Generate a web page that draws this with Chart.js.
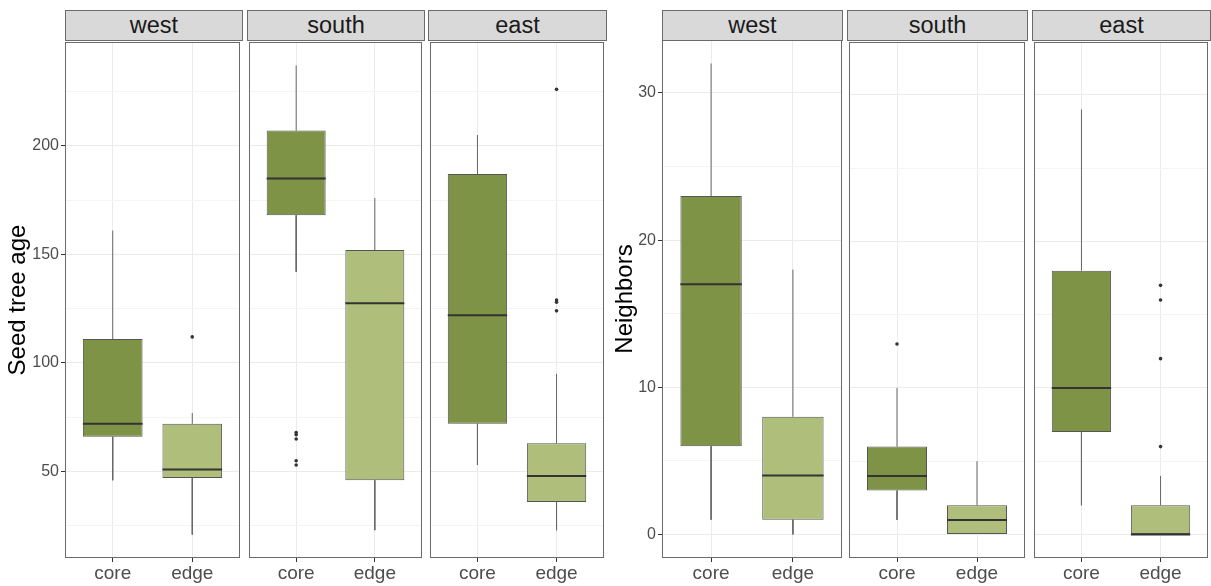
<!DOCTYPE html>
<html>
<head>
<meta charset="utf-8">
<script src="https://cdn.jsdelivr.net/npm/chart.js@4.4.1/dist/chart.umd.min.js"></script>
<style>
  html, body { margin: 0; padding: 0; background: #ffffff; }
  #wrap { position: relative; width: 1211px; height: 586px; overflow: hidden; background: #ffffff;
          font-family: "Liberation Sans", Arial, sans-serif; }
  #wrap canvas { position: absolute; }
  .strip { position: absolute; top: 10px; height: 31px; box-sizing: border-box;
           background: #d9d9d9; border: 1px solid #6b6b6b; color: #1a1a1a;
           font-size: 23.5px; display: flex; align-items: center; justify-content: center; }
</style>
</head>
<body>
<div id="wrap"></div>
<script>
// ---------------- DATA ----------------
const regions = ['west', 'south', 'east'];
const positions = ['core', 'edge'];

// Seed tree age: per region, [core, edge]
const ageLower  = [[46, 21], [142, 23], [53, 23]];
const ageQ1     = [[66, 47], [168, 46], [72, 36]];
const ageMedian = [[72, 51], [185, 127.5], [122, 48]];
const ageQ3     = [[111, 72], [207, 152], [187, 63]];
const ageUpper  = [[161, 77], [237, 176], [205, 95]];
const ageOutliers = [[[], [112]], [[68, 67, 65, 55, 53], []], [[], [226, 129, 128, 124]]];
const ageTicks  = [50, 100, 150, 200];

// Neighbors: per region, [core, edge]
const nbLower  = [[1, 0], [1, 0], [2, 0]];
const nbQ1     = [[6, 1], [3, 0], [7, 0]];
const nbMedian = [[17, 4], [4, 1], [10, 0]];
const nbQ3     = [[23, 8], [6, 2], [18, 2]];
const nbUpper  = [[32, 18], [10, 5], [29, 4]];
const nbOutliers = [[[], []], [[13], []], [[], [17, 16, 12, 6]]];
const nbTicks  = [0, 10, 20, 30];

// ---------------- LAYOUT / STYLE ----------------
const W = 1211, H = 586;
const PANEL_TOP = 40, PANEL_BOTTOM = 558;
const X_AXIS_H = H - PANEL_BOTTOM;
const BOX_WIDTH = 0.75;
const FILLS = ['#7f9347', '#afbf7b'];
const BORDER = '#6b6b6b';
const FONT = '"Liberation Sans", Arial, sans-serif';

Chart.defaults.font.family = FONT;

const metrics = [
  { lower: ageLower, q1: ageQ1, median: ageMedian, q3: ageQ3, upper: ageUpper, outliers: ageOutliers,
    ticks: ageTicks, title: 'Seed tree age',
    panels: [[65, 242], [247, 424], [428, 606]], axisLeft: 0 },
  { lower: nbLower, q1: nbQ1, median: nbMedian, q3: nbQ3, upper: nbUpper, outliers: nbOutliers,
    ticks: nbTicks, title: 'Neighbors',
    panels: [[662, 842], [847, 1027], [1032, 1210]], axisLeft: 607 }
];

const wrap = document.getElementById('wrap');

const panelBorder = {
  id: 'panelBorder',
  afterDatasetsDraw(chart) {
    const a = chart.chartArea, ctx = chart.ctx;
    ctx.save();
    ctx.strokeStyle = BORDER;
    ctx.lineWidth = 1;
    ctx.strokeRect(a.left + 0.5, a.top + 0.5, a.right - a.left - 1, a.bottom - a.top - 1);
    ctx.restore();
  }
};

function yRange(m) {
  const all = [];
  m.lower.forEach(r => r.forEach(v => all.push(v)));
  m.upper.forEach(r => r.forEach(v => all.push(v)));
  m.outliers.forEach(r => r.forEach(list => list.forEach(v => all.push(v))));
  const lo = Math.min(...all), hi = Math.max(...all);
  const pad = (hi - lo) * 0.05;
  return [lo - pad, hi + pad];
}

function makeFacet(m, ri) {
  const [pl, pr] = m.panels[ri];
  const first = ri === 0;
  const cLeft = first ? m.axisLeft : pl - 2;
  const cTop = PANEL_TOP - 2;
  const w = pr + 2 - cLeft, h = H - cTop;
  const canvas = document.createElement('canvas');
  canvas.width = w; canvas.height = h;
  canvas.style.left = cLeft + 'px'; canvas.style.top = cTop + 'px';
  canvas.style.width = w + 'px'; canvas.style.height = h + 'px';
  wrap.appendChild(canvas);

  // strip
  const strip = document.createElement('div');
  strip.className = 'strip';
  strip.style.left = pl + 'px';
  strip.style.width = (pr - pl + 1) + 'px';
  strip.textContent = regions[ri];
  wrap.appendChild(strip);

  const [ymin, ymax] = yRange(m);
  const step = m.ticks[1] - m.ticks[0];
  const minor = [];
  for (let v = m.ticks[0] - step / 2; v <= ymax; v += step) if (v >= ymin) minor.push(v);
  const isMajor = v => m.ticks.includes(v);

  const half = BOX_WIDTH / 2;
  const boxData = positions.map((p, pi) => ({ x: pi + 1, y: [m.q1[ri][pi], m.q3[ri][pi]] }));
  const whiskerData = [];
  const medianData = [];
  const outlierData = [];
  positions.forEach((p, pi) => {
    const x = pi + 1;
    whiskerData.push({ x, y: m.q3[ri][pi] }, { x, y: m.upper[ri][pi] }, { x, y: null });
    whiskerData.push({ x, y: m.q1[ri][pi] }, { x, y: m.lower[ri][pi] }, { x, y: null });
    medianData.push({ x: x - half, y: m.median[ri][pi] }, { x: x + half, y: m.median[ri][pi] }, { x, y: null });
    m.outliers[ri][pi].forEach(v => outlierData.push({ x, y: v }));
  });

  new Chart(canvas, {
    type: 'bar',
    data: {
      datasets: [
        { type: 'line', data: medianData, borderColor: '#333333', borderWidth: 2, pointRadius: 0,
          spanGaps: false, order: 0 },
        { type: 'scatter', data: outlierData, backgroundColor: '#333333', borderWidth: 0,
          pointRadius: 1.8, order: 1 },
        { type: 'bar', data: boxData, backgroundColor: FILLS, borderColor: '#555555', borderWidth: 1,
          borderSkipped: false, barPercentage: BOX_WIDTH, categoryPercentage: 1, grouped: false, order: 2 },
        { type: 'line', data: whiskerData, borderColor: '#666666', borderWidth: 1, pointRadius: 0,
          spanGaps: false, order: 3 }
      ]
    },
    options: {
      responsive: false,
      animation: false,
      devicePixelRatio: 1,
      layout: { padding: { left: first ? 0 : 2, right: 2, top: 2, bottom: 0 } },
      plugins: { legend: { display: false }, tooltip: { enabled: false } },
      scales: {
        x: {
          type: 'linear', min: 0.4, max: 2.6, position: 'bottom', offset: false,
          afterBuildTicks: s => { s.ticks = positions.map((p, i) => ({ value: i + 1 })); },
          afterFit: s => { s.height = X_AXIS_H; s.paddingLeft = 0; s.paddingRight = 0; },
          ticks: { callback: v => positions[v - 1] || '', color: '#4d4d4d', font: { size: 19 }, padding: 0,
                   maxRotation: 0, autoSkip: false },
          grid: { offset: false, color: '#ebebeb', lineWidth: 1, drawTicks: true, tickLength: 4, tickColor: '#333333' },
          border: { display: false }
        },
        y: {
          type: 'linear', min: ymin, max: ymax, position: 'left',
          afterBuildTicks: s => {
            s.ticks = [...m.ticks, ...minor].sort((a, b) => a - b).map(v => ({ value: v }));
          },
          afterFit: s => { s.width = first ? (pl - m.axisLeft) : 0; s.paddingTop = 0; s.paddingBottom = 0; },
          ticks: {
            display: first,
            callback: v => isMajor(v) ? String(v) : '',
            color: '#4d4d4d', font: { size: 16 }, padding: 2, autoSkip: false
          },
          grid: {
            color: c => (c.tick && isMajor(c.tick.value)) ? '#ebebeb' : '#f4f4f4',
            lineWidth: 1,
            drawTicks: first, tickLength: 4,
            tickColor: c => (c.tick && isMajor(c.tick.value)) ? '#333333' : 'rgba(0,0,0,0)'
          },
          border: { display: false },
          title: { display: first, text: m.title, color: '#000000', font: { size: 24 }, padding: { top: 4, bottom: 0 } }
        }
      }
    },
    plugins: [panelBorder]
  });
}

metrics.forEach(m => regions.forEach((r, ri) => makeFacet(m, ri)));
</script>
</body>
</html>
